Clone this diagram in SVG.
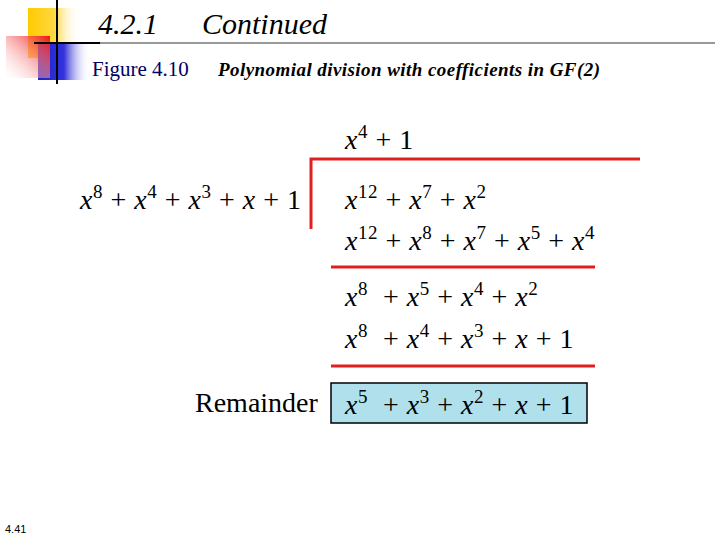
<svg xmlns="http://www.w3.org/2000/svg" width="720" height="540" viewBox="0 0 720 540">
<defs>
<linearGradient id="gy" x1="0" x2="1"><stop offset="0" stop-color="#ffcc00"/><stop offset="0.5" stop-color="#ffd640"/><stop offset="1" stop-color="#fff" stop-opacity="0"/></linearGradient>
<linearGradient id="gr" x1="1" x2="0" y1="0" y2="1"><stop offset="0" stop-color="#ee1111"/><stop offset="1" stop-color="#fff" stop-opacity="0.2"/></linearGradient>
<linearGradient id="gb" x1="0" x2="1"><stop offset="0" stop-color="#2222cc"/><stop offset="0.5" stop-color="#3333dd"/><stop offset="1" stop-color="#fff" stop-opacity="0"/></linearGradient>
<style>
.m{font-family:"Liberation Serif",serif;font-size:28px;fill:#000;letter-spacing:0.5px}
.i{font-style:italic}
.s{font-size:19px}
.rl{stroke:#e02020;stroke-width:3;fill:none}
</style>
</defs>
<rect width="720" height="540" fill="#fff"/>
<g id="deco">
<rect x="28" y="8" width="52" height="50" fill="url(#gy)"/>
<rect x="38" y="44" width="52" height="36" fill="url(#gb)"/>
<rect x="6" y="36" width="44" height="42" fill="url(#gr)"/>
<line x1="57" y1="0" x2="57" y2="84" stroke="#000" stroke-width="2"/>
<line x1="34" y1="43" x2="100" y2="43" stroke="#000" stroke-width="2"/>
<line x1="100" y1="43" x2="715" y2="43" stroke="#999" stroke-width="2"/>
</g>
<g id="title" font-family="Liberation Serif,serif">
<text x="98" y="34" font-size="30" font-style="italic">4.2.1</text>
<text x="202" y="34" font-size="30" font-style="italic">Continued</text>
<text x="92" y="76" font-size="21" fill="#000066">Figure 4.10</text>
<text x="218" y="76" font-size="19" font-style="italic" font-weight="bold" textLength="382" lengthAdjust="spacing">Polynomial division with coefficients in GF(2)</text>
</g>
<g id="connectors">
<polyline class="rl" points="311,229 311,159 640,159"/>
<line class="rl" x1="331" y1="267" x2="595" y2="267"/>
<line class="rl" x1="331" y1="366" x2="595" y2="366"/>
</g>
<g id="quotient"><text class="m" x="345" y="149" xml:space="preserve"><tspan class="i">x</tspan><tspan class="s" dy="-11">4</tspan><tspan dy="11"> + 1</tspan></text></g>
<g id="divisor"><text class="m" x="80" y="209" xml:space="preserve"><tspan class="i">x</tspan><tspan class="s" dy="-11">8</tspan><tspan dy="11"> + </tspan><tspan class="i">x</tspan><tspan class="s" dy="-11">4</tspan><tspan dy="11"> + </tspan><tspan class="i">x</tspan><tspan class="s" dy="-11">3</tspan><tspan dy="11"> + </tspan><tspan class="i">x</tspan><tspan> + 1</tspan></text></g>
<g id="dividend"><text class="m" x="345" y="209" xml:space="preserve"><tspan class="i">x</tspan><tspan class="s" dy="-11">12</tspan><tspan dy="11"> + </tspan><tspan class="i">x</tspan><tspan class="s" dy="-11">7</tspan><tspan dy="11"> + </tspan><tspan class="i">x</tspan><tspan class="s" dy="-11">2</tspan></text></g>
<g id="sub1"><text class="m" x="345" y="250" xml:space="preserve"><tspan class="i">x</tspan><tspan class="s" dy="-11">12</tspan><tspan dy="11"> + </tspan><tspan class="i">x</tspan><tspan class="s" dy="-11">8</tspan><tspan dy="11"> + </tspan><tspan class="i">x</tspan><tspan class="s" dy="-11">7</tspan><tspan dy="11"> + </tspan><tspan class="i">x</tspan><tspan class="s" dy="-11">5</tspan><tspan dy="11"> + </tspan><tspan class="i">x</tspan><tspan class="s" dy="-11">4</tspan></text></g>
<g id="rem1"><text class="m" x="345" y="306" xml:space="preserve"><tspan class="i">x</tspan><tspan class="s" dy="-11">8</tspan><tspan dy="11">  + </tspan><tspan class="i">x</tspan><tspan class="s" dy="-11">5</tspan><tspan dy="11"> + </tspan><tspan class="i">x</tspan><tspan class="s" dy="-11">4</tspan><tspan dy="11"> + </tspan><tspan class="i">x</tspan><tspan class="s" dy="-11">2</tspan></text></g>
<g id="sub2"><text class="m" x="345" y="348" xml:space="preserve"><tspan class="i">x</tspan><tspan class="s" dy="-11">8</tspan><tspan dy="11">  + </tspan><tspan class="i">x</tspan><tspan class="s" dy="-11">4</tspan><tspan dy="11"> + </tspan><tspan class="i">x</tspan><tspan class="s" dy="-11">3</tspan><tspan dy="11"> + </tspan><tspan class="i">x</tspan><tspan> + 1</tspan></text></g>
<g id="remainder">
<text class="m" x="195" y="412" style="letter-spacing:0">Remainder</text>
<rect x="331" y="383" width="256" height="40" fill="#b0e0ec" stroke="#000" stroke-width="1.5"/>
<text class="m" x="345" y="414" xml:space="preserve"><tspan class="i">x</tspan><tspan class="s" dy="-11">5</tspan><tspan dy="11">  + </tspan><tspan class="i">x</tspan><tspan class="s" dy="-11">3</tspan><tspan dy="11"> + </tspan><tspan class="i">x</tspan><tspan class="s" dy="-11">2</tspan><tspan dy="11"> + </tspan><tspan class="i">x</tspan><tspan> + 1</tspan></text>
</g>
<text x="5" y="533" font-family="Liberation Sans,sans-serif" font-size="11">4.41</text>
</svg>
